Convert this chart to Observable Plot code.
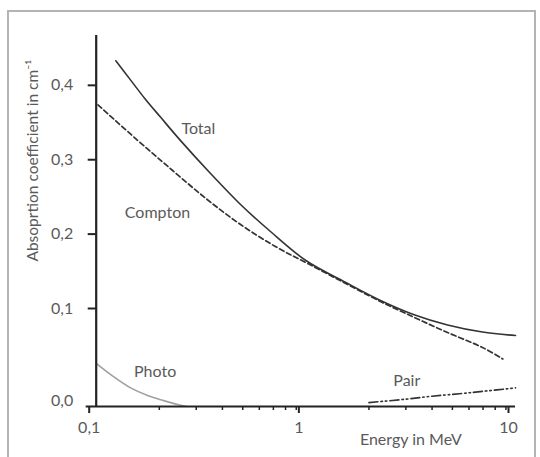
<!DOCTYPE html>
<html><head><meta charset="utf-8">
<script src="https://cdn.jsdelivr.net/npm/d3@7"></script>
<script src="https://cdn.jsdelivr.net/npm/@observablehq/plot@0.6"></script>
<style>
body{margin:0;background:#fff;}
#wrap{position:relative;width:540px;height:457px;overflow:hidden;}
#frame{position:absolute;left:7px;top:10px;width:529px;height:470px;border:2px solid #b4b4b4;box-sizing:border-box;}
#chart{position:absolute;left:0;top:0;}
</style></head><body>
<div id="wrap"><div id="frame"></div><div id="chart"></div></div>
<script>
// Data
const totalEnergy = [0.124, 0.146, 0.172, 0.203, 0.252, 0.351, 0.488, 0.678, 1.0, 1.55, 2.27, 3.26, 4.74, 6.96, 10];
const totalCoef   = [0.433, 0.407, 0.381, 0.357, 0.326, 0.2815, 0.2398, 0.2035, 0.1645, 0.135, 0.1108, 0.0939, 0.0832, 0.076, 0.0724];
const comptonEnergy = [0.102, 0.157, 0.23, 0.336, 0.488, 0.716, 1.02, 1.55, 2.27, 3.26, 4.74, 6.96, 8.7];
const comptonCoef   = [0.3736, 0.3265, 0.2862, 0.2472, 0.2129, 0.1833, 0.1605, 0.1336, 0.1094, 0.0913, 0.0755, 0.0602, 0.0485];
const photoEnergy = [0.1, 0.12, 0.146, 0.177, 0.21, 0.245, 0.27];
const photoCoef   = [0.044, 0.031, 0.019, 0.011, 0.006, 0.002, 0.0];
const pairEnergy = [2.0, 3.0, 4.0, 5.4, 7.0, 10];
const pairCoef   = [0.004, 0.0075, 0.0105, 0.013, 0.0155, 0.019];

const xMajorTicks = [0.1, 1, 10];
const xMajorLabels = ["0,1", "1", "10"];
const xMinorTicks = [0.2, 0.3, 0.4, 0.5, 0.6, 0.7, 0.8, 0.9, 2, 3, 4, 5, 6, 7, 8, 9];
const yTicks = [0.1, 0.2, 0.3, 0.4];
const yTickLabels = ["0,1", "0,2", "0,3", "0,4"];
const yZeroLabel = "0,0";

const curveLabels = ["Total", "Compton", "Photo", "Pair"];
const curveLabelEnergy = [0.307, 0.196, 0.191, 3.03];
const curveLabelCoef = [0.342, 0.228, 0.0357, 0.0265];

const xTitle = "Energy in MeV";
const yTitle = "Absoprtion coefficient in cm⁻¹";

const toRows = (es, cs) => es.map((e, i) => ({energy: e, coef: cs[i]}));
const total = toRows(totalEnergy, totalCoef);
const compton = toRows(comptonEnergy, comptonCoef);
const photo = toRows(photoEnergy, photoCoef);
const pair = toRows(pairEnergy, pairCoef);

const txt = "#5a5a5a";
const axisColor = "#222";

const chart = Plot.plot({
  width: 540,
  height: 457,
  marginLeft: 95.7,
  marginRight: 25,
  marginTop: 35,
  marginBottom: 51,
  style: {fontFamily: "Lato, 'Open Sans', sans-serif", background: "transparent", color: txt},
  x: {type: "log", domain: [0.1, 10], range: [95.7, 515]},
  y: {type: "linear", domain: [0, 0.1, 0.467], range: [406, 308, 35]},
  marks: [
    Plot.line(photo, {x: "energy", y: "coef", stroke: "#a0a0a0", strokeWidth: 1.6, curve: "catmull-rom"}),
    Plot.line(pair, {x: "energy", y: "coef", stroke: "#333", strokeWidth: 1.6, strokeDasharray: "9,3,1.5,3,1.5,3", curve: "catmull-rom"}),
    Plot.line(compton, {x: "energy", y: "coef", stroke: "#333", strokeWidth: 1.7, strokeDasharray: "5,3", curve: "catmull-rom"}),
    Plot.line(total, {x: "energy", y: "coef", stroke: "#333", strokeWidth: 1.6, curve: "catmull-rom"}),
    Plot.axisX({ticks: xMinorTicks, tickSize: 4, tickFormat: () => "", stroke: axisColor, strokeWidth: 1.5, label: null}),
    Plot.axisX({ticks: xMajorTicks, tickSize: 7, tickPadding: 8, tickFormat: d => xMajorLabels[xMajorTicks.indexOf(d)], fontSize: 16, dx: -7, stroke: axisColor, strokeWidth: 2, fill: txt, label: null}),
    Plot.axisY({ticks: yTicks, tickSize: 8, tickPadding: 15, tickFormat: d => yTickLabels[yTicks.indexOf(d)], fontSize: 16, stroke: axisColor, strokeWidth: 2, fill: txt, label: null}),
    Plot.axisY({ticks: [0], tickSize: 0, tickPadding: 23, tickFormat: () => yZeroLabel, fontSize: 16, dy: -6, fill: txt, label: null}),
    Plot.ruleY([0], {stroke: axisColor, strokeWidth: 2.2, insetLeft: -10}),
    Plot.ruleX([0.1], {stroke: axisColor, strokeWidth: 2.2}),
    Plot.text(curveLabels, {x: curveLabelEnergy, y: curveLabelCoef, text: d => d, fontSize: 16, fill: txt}),
    Plot.text([xTitle], {frameAnchor: "bottom", dx: 105, dy: 38, fontSize: 16, fill: txt}),
    Plot.text([yTitle], {frameAnchor: "top-left", textAnchor: "middle", lineAnchor: "middle", dx: -62.7, dy: 125, rotate: -90, fontSize: 15.5, fill: txt})
  ]
});
document.getElementById("chart").appendChild(chart);
</script>
</body></html>
